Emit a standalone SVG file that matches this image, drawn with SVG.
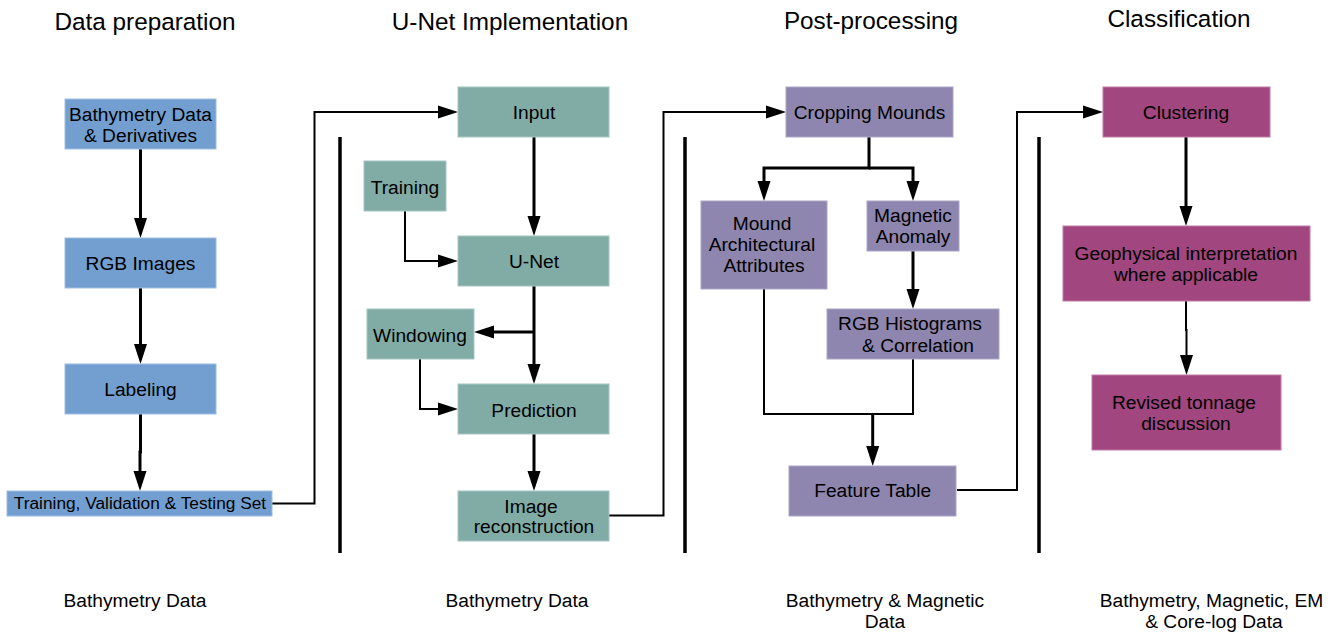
<svg xmlns="http://www.w3.org/2000/svg" width="1337" height="634" viewBox="0 0 1337 634">
<style>
text{font-family:"Liberation Sans",Arial,sans-serif;fill:#000;text-anchor:middle}
.title{font-size:24.3px}
.t{font-size:19.2px}
.s{font-size:17.3px}
.blue{fill:#729fcf;stroke:#9dbde2;stroke-width:1}
.teal{fill:#81aca6;stroke:#a6c6c1;stroke-width:1}
.purple{fill:#8e86ae;stroke:#aca6c8;stroke-width:1}
.mag{fill:#a1467e;stroke:#c07aa5;stroke-width:1}
.c{fill:none;stroke:#000;stroke-linejoin:miter}
.w3{stroke-width:3}
.w2{stroke-width:2}
.a{marker-end:url(#ah)}
.sep{stroke:#000;stroke-width:3.5}
</style>
<defs>
<marker id="ah" markerUnits="userSpaceOnUse" markerWidth="20" markerHeight="14" refX="10" refY="7" orient="auto">
<path d="M0,0.5 L20,7 L0,13.5 z" fill="#000"/>
</marker>
</defs>
<rect width="1337" height="634" fill="#fff"/>

<g id="titles">
<text class="title" x="145" y="30">Data preparation</text>
<text class="title" x="510" y="30">U-Net Implementation</text>
<text class="title" x="871" y="29">Post-processing</text>
<text class="title" x="1179" y="27">Classification</text>
</g>

<g id="separators">
<line class="sep" x1="340" y1="137" x2="340" y2="553"/>
<line class="sep" x1="685" y1="137" x2="685" y2="553"/>
<line class="sep" x1="1039" y1="137" x2="1039" y2="553"/>
</g>

<g id="connectors">
<path class="c w3 a" d="M140.5,149 V228"/>
<path class="c w3 a" d="M140.5,288 V354"/>
<path class="c w3 a" d="M140.5,414 V452 H140 V481"/>
<path class="c w2 a" d="M272,503.5 H314.5 V112 H448"/>
<path class="c w3 a" d="M534,137 V226"/>
<path class="c w2 a" d="M405,211 V261 H448"/>
<path class="c w3 a" d="M534,286 V374"/>
<path class="c w3 a" d="M534,332 H484"/>
<path class="c w2 a" d="M420,359 V409 H448"/>
<path class="c w3 a" d="M534,434 V481"/>
<path class="c w2 a" d="M609,515.5 H663.5 V112 H776"/>
<path class="c w3 a" d="M869,137 V168 H764 V191"/>
<path class="c w3 a" d="M869,168 H913 V191"/>
<path class="c w3 a" d="M913,251 V299"/>
<path class="c w2" d="M764,289 V414 H913 V359"/>
<path class="c w3 a" d="M872.7,414 V456"/>
<path class="c w2 a" d="M957,490 H1017 V112 H1093"/>
<path class="c w3 a" d="M1186,137 V216"/>
<path class="c w2 a" d="M1186,301 V330 H1186.5 V365"/>
</g>

<g id="bathymetry-data">
<rect class="blue" x="65" y="99" width="151" height="50"/>
<text class="t" x="140.5" y="121">Bathymetry Data</text>
<text class="t" x="140.5" y="142">&amp; Derivatives</text>
</g>
<g id="rgb-images">
<rect class="blue" x="65" y="238" width="151" height="50"/>
<text class="t" x="140.5" y="270">RGB Images</text>
</g>
<g id="labeling">
<rect class="blue" x="65" y="364" width="151" height="50"/>
<text class="t" x="140.5" y="396">Labeling</text>
</g>
<g id="training-set">
<rect class="blue" x="7" y="491" width="265" height="25"/>
<text class="s" x="140" y="509">Training, Validation &amp; Testing Set</text>
</g>

<g id="input">
<rect class="teal" x="458" y="87" width="151" height="50"/>
<text class="t" x="534" y="119">Input</text>
</g>
<g id="training">
<rect class="teal" x="364" y="161" width="82" height="50"/>
<text class="t" x="405" y="194">Training</text>
</g>
<g id="unet">
<rect class="teal" x="458" y="236" width="151" height="50"/>
<text class="t" x="534" y="268">U-Net</text>
</g>
<g id="windowing">
<rect class="teal" x="367" y="309" width="107" height="50"/>
<text class="t" x="420" y="342">Windowing</text>
</g>
<g id="prediction">
<rect class="teal" x="458" y="384" width="151" height="50"/>
<text class="t" x="534" y="417">Prediction</text>
</g>
<g id="image-reconstruction">
<rect class="teal" x="458" y="491" width="151" height="50"/>
<text class="t" x="531" y="513">Image</text>
<text class="t" x="534" y="533">reconstruction</text>
</g>

<g id="cropping-mounds">
<rect class="purple" x="786" y="87" width="167" height="50"/>
<text class="t" x="869.5" y="119">Cropping Mounds</text>
</g>
<g id="mound-attributes">
<rect class="purple" x="701" y="201" width="126" height="88"/>
<text class="t" x="762" y="230">Mound</text>
<text class="t" x="762" y="251">Architectural</text>
<text class="t" x="764" y="272">Attributes</text>
</g>
<g id="magnetic-anomaly">
<rect class="purple" x="867" y="201" width="92" height="50"/>
<text class="t" x="913" y="222">Magnetic</text>
<text class="t" x="913" y="243">Anomaly</text>
</g>
<g id="rgb-histograms">
<rect class="purple" x="827" y="309" width="172" height="50"/>
<text class="t" x="910" y="330">RGB Histograms</text>
<text class="t" x="918" y="352">&amp; Correlation</text>
</g>
<g id="feature-table">
<rect class="purple" x="789" y="466" width="167" height="50"/>
<text class="t" x="872.7" y="497">Feature Table</text>
</g>

<g id="clustering">
<rect class="mag" x="1103" y="87" width="167" height="50"/>
<text class="t" x="1186" y="119">Clustering</text>
</g>
<g id="geophysical">
<rect class="mag" x="1063" y="226" width="247" height="75"/>
<text class="t" x="1186" y="260">Geophysical interpretation</text>
<text class="t" x="1186" y="281">where applicable</text>
</g>
<g id="revised-tonnage">
<rect class="mag" x="1092" y="375" width="189" height="75"/>
<text class="t" x="1184" y="409">Revised tonnage</text>
<text class="t" x="1186" y="430">discussion</text>
</g>

<g id="data-labels">
<text class="t" x="135" y="607">Bathymetry Data</text>
<text class="t" x="517" y="607">Bathymetry Data</text>
<text class="t" x="885" y="607">Bathymetry &amp; Magnetic</text>
<text class="t" x="885" y="628">Data</text>
<text class="t" x="1211.5" y="607">Bathymetry, Magnetic, EM</text>
<text class="t" x="1214" y="628">&amp; Core-log Data</text>
</g>
</svg>
